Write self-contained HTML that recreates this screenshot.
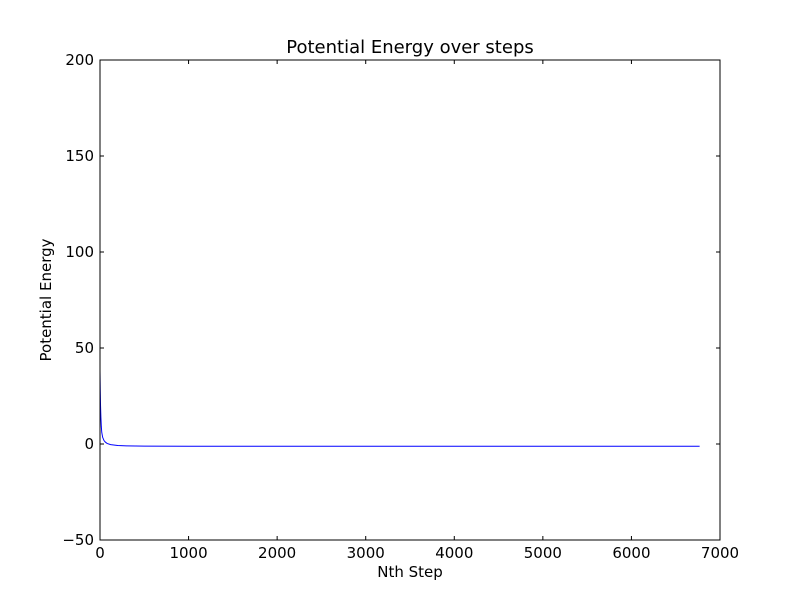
<!DOCTYPE html>
<html><head><meta charset="utf-8"><style>
body{margin:0;background:#fff;}
text{font-family:"DejaVu Sans","Liberation Sans",sans-serif;}
</style></head><body>
<svg id="chart" width="800" height="600" xmlns="http://www.w3.org/2000/svg">
<rect width="800" height="600" fill="#fff"/>
<g id="ticks"></g>
<path id="line" fill="none" stroke="#0000ff" stroke-width="1"/>
<rect x="100" y="60" width="620" height="480" fill="none" stroke="#000" stroke-width="1"/>
<text x="410" y="53" font-size="18" text-anchor="middle">Potential Energy over steps</text>
<text x="410" y="577" font-size="15" text-anchor="middle">Nth Step</text>
<text transform="translate(51,300) rotate(-90)" font-size="15" text-anchor="middle">Potential Energy</text>
</svg>
<script>
const steps=[0,3,6,10,15,20,30,45,60,80,120,200,300,500,1000,2000,4000,6770];
const energy=[38,28,20,14,9,6,3.5,1.8,1,0.3,-0.3,-0.8,-1,-1.1,-1.2,-1.2,-1.2,-1.2];
const xTicks=[0,1000,2000,3000,4000,5000,6000,7000];
const yTicks=[-50,0,50,100,150,200];
const X=v=>100+v/7000*620, Y=v=>540-(v+50)/250*480;
const ns="http://www.w3.org/2000/svg", g=document.getElementById('ticks');
function mk(t,a){const e=document.createElementNS(ns,t);for(const k in a)e.setAttribute(k,a[k]);g.appendChild(e);return e;}
xTicks.forEach(v=>{const x=X(v);
 mk('line',{x1:x,x2:x,y1:540,y2:536,stroke:'#000'});mk('line',{x1:x,x2:x,y1:60,y2:64,stroke:'#000'});
 const t=mk('text',{x:x,y:558,'font-size':15,'text-anchor':'middle'});t.textContent=v;
 
 });
yTicks.forEach(v=>{const y=Y(v);
 mk('line',{x1:100,x2:104,y1:y,y2:y,stroke:'#000'});mk('line',{x1:720,x2:716,y1:y,y2:y,stroke:'#000'});
 const t=mk('text',{x:94,y:y+5,'font-size':15,'text-anchor':'end'});t.textContent=v<0?'\u2212'+(-v):v;
 
 });
document.getElementById('line').setAttribute('d',steps.map((s,i)=>(i?'L':'M')+X(s)+','+Y(energy[i])).join(''));
</script>
</body></html>
